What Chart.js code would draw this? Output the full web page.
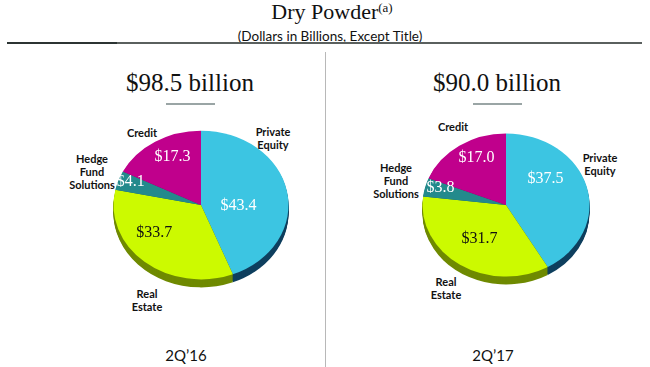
<!DOCTYPE html>
<html>
<head>
<meta charset="utf-8">
<script src="https://cdn.jsdelivr.net/npm/chart.js@4/dist/chart.umd.min.js"></script>
<style>
    body { margin: 0; background: #fff; }
    #page { position: relative; width: 650px; height: 367px; overflow: hidden; }
    .abs { position: absolute; }
    .title { left: 7px; top: 1px; width: 650px; text-align: center; font-family: "Liberation Serif", serif; font-size: 22px; line-height: 22px; color: #111; }
    .title sup { font-size: 13px; vertical-align: 7px; line-height: 0; }
    .subtitle { left: 5px; top: 30px; width: 650px; text-align: center; font-family: Lato, sans-serif; font-size: 13.5px; line-height: 13px; color: #111; }
    .total { width: 240px; text-align: center; font-family: "Liberation Serif", serif; font-size: 25px; line-height: 25px; color: #111; }
    .rule { height: 2px; background: #9aa5a5; }
    .cat { width: 80px; text-align: center; font-family: Lato, sans-serif; font-weight: bold; font-size: 11px; line-height: 13px; color: #111; }
    .period { width: 100px; text-align: center; font-family: Lato, sans-serif; font-size: 15px; line-height: 16px; color: #111; }
    .chartBox { width: 200px; height: 200px; }
</style>
</head>
<body>
<div id="page">
    <div class="abs title">Dry Powder<sup>(a)</sup></div>
    <div class="abs subtitle">(Dollars in Billions, Except Title)</div>
    <div class="abs" style="left:7px;top:42px;width:635px;height:2px;background:#5a605e"></div>
    <div class="abs" style="left:7px;top:42px;width:110px;height:2px;background:#2c3433"></div>
    <div class="abs" style="left:325px;top:52px;width:1px;height:315px;background:#b8b8b8"></div>
</div>

<script>
// 데이터
const categories = ['Private Equity', 'Real Estate', 'Hedge Fund Solutions', 'Credit'];
const values2Q16 = [43.4, 33.7, 4.1, 17.3];
const values2Q17 = [37.5, 31.7, 3.8, 17.0];
const totals = [98.5, 90.0];
const periods = ['2Q\u201916', '2Q\u201917'];

const topColors = ['#3cc5e2', '#ccfa00', '#238a8c', '#c0008c'];
const sideColors = ['#0e3f5e', '#6f8a00', '#145a5b', '#7a005a'];
const valueColors = ['#ffffff', '#111111', '#ffffff', '#ffffff'];

// 차트별 배치 (중심, 반지름, 라벨 위치)
const panels = [
    {
        values: values2Q16, total: totals[0], period: periods[0],
        cx: 200.5, cy: 204.5, radius: 87.5, squash: 0.85,
        totalX: 190, ruleX: 166,
        valueLabel: [[0.43, 11.6], [0.65, 15], [0.86, 1.7], [0.72, 4.6]],
        catLabel: [[273, 131], [147, 293], [92, 158], [142, 132]],
        periodX: 186
    },
    {
        values: values2Q17, total: totals[1], period: periods[1],
        cx: 505.5, cy: 204.5, radius: 83.5, squash: 0.856,
        totalX: 497, ruleX: 473,
        valueLabel: [[0.60, -23], [0.57, 0.6], [0.82, 2.6], [0.75, 6]],
        catLabel: [[600, 157], [446, 281], [396, 167], [453, 126]],
        periodX: 493
    }
];

const DEPTH = 8;

// 3D 기울기 플러그인
const tiltPlugin = {
    id: 'tilt',
    beforeDatasetsDraw(chart, args, opts) {
        const meta = chart.getDatasetMeta(0);
        const ctx = chart.ctx;
        const { x, y } = meta.data[0];
        ctx.save();
        ctx.translate(x, y);
        ctx.scale(1, opts.squash);
        ctx.translate(-x, -y);
        // 측면
        for (let d = DEPTH; d > 0; d--) {
            const off = d / opts.squash;
            meta.data.forEach((arc, i) => {
                ctx.beginPath();
                ctx.moveTo(arc.x, arc.y + off);
                ctx.arc(arc.x, arc.y + off, arc.outerRadius, arc.startAngle, arc.endAngle);
                ctx.closePath();
                ctx.fillStyle = sideColors[i];
                ctx.fill();
            });
        }
    },
    afterDatasetsDraw(chart, args, opts) {
        const ctx = chart.ctx;
        ctx.restore();
        const meta = chart.getDatasetMeta(0);
        const values = chart.data.datasets[0].data;
        ctx.save();
        ctx.font = '16px "Liberation Serif", serif';
        ctx.textAlign = 'center';
        ctx.textBaseline = 'middle';
        meta.data.forEach((arc, i) => {
            const [f, da] = opts.labels[i];
            const a = (arc.startAngle + arc.endAngle) / 2 + da * Math.PI / 180;
            const r = arc.outerRadius * f;
            ctx.fillStyle = valueColors[i];
            ctx.fillText('$' + values[i].toFixed(1), arc.x + Math.cos(a) * r, arc.y + Math.sin(a) * r * opts.squash);
        });
        ctx.restore();
    }
};

const page = document.getElementById('page');

function addDiv(cls, left, top, html) {
    const el = document.createElement('div');
    el.className = 'abs ' + cls;
    el.style.left = left + 'px';
    el.style.top = top + 'px';
    el.innerHTML = html;
    page.appendChild(el);
    return el;
}

panels.forEach((p) => {
    addDiv('total', p.totalX - 120, 70, '$' + p.total.toFixed(1) + ' billion');
    const rule = addDiv('rule', p.ruleX, 103, '');
    rule.style.width = '49px';
    addDiv('period', p.periodX - 50, 347, p.period);

    categories.forEach((name, i) => {
        const [x, y] = p.catLabel[i];
        addDiv('cat', x - 40, y - 6.5, name.split(' ').join('<br>'));
    });

    const box = addDiv('chartBox', p.cx - 100, p.cy - 100, '');
    const canvas = document.createElement('canvas');
    box.appendChild(canvas);

    const pad = 100 - p.radius;
    new Chart(canvas, {
        type: 'pie',
        data: {
            labels: categories,
            datasets: [{
                data: p.values,
                backgroundColor: topColors,
                borderWidth: 0,
                clip: false
            }]
        },
        options: {
            responsive: true,
            maintainAspectRatio: false,
            animation: false,
            events: [],
            layout: { padding: pad },
            plugins: {
                legend: { display: false },
                tooltip: { enabled: false },
                tilt: { squash: p.squash, labels: p.valueLabel }
            }
        },
        plugins: [tiltPlugin]
    });
});
</script>
</body>
</html>
